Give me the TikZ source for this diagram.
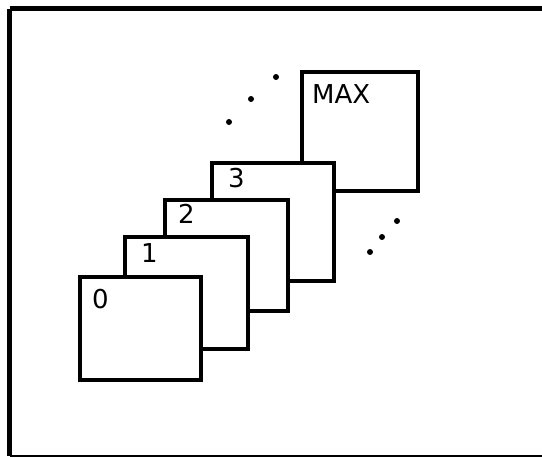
\documentclass[tikz,border=0pt]{standalone}
\usepackage{fontspec}
\setmainfont{DejaVu Sans}
\usepackage{tikz}
\usetikzlibrary{positioning,calc}
\tikzset{card/.style={draw, fill=white, line width=4.5pt, inner sep=0pt, outer sep=0pt}}
\tikzset{tag/.style={inner sep=0pt, anchor=base west, font=\fontsize{26}{31}\selectfont}}
\tikzset{frameline/.style={line width=5pt}}
\tikzset{dot/.style={fill=black}}

\begin{document}
\begin{tikzpicture}[x=1pt, y=-1pt]
			\useasboundingbox (0,0) rectangle (542,458);
			% frame
			\draw[frameline] (9.5,8.5) -- (548,8.5);
			\draw[frameline] (9.5,8.5) -- (9.5,456);
			\draw[line width=2.5pt] (9.5,456) -- (548,456);
			%
			% back to front
			\node[card, minimum width=116pt, minimum height=119pt] (bmax) at (360,131.5) {};
			\node[card, minimum width=122pt, minimum height=118pt] (b3) at (273,222) {};
			\node[card, minimum width=123pt, minimum height=111pt] (b2) at (226.5,255.5) {};
			\node[card, minimum width=123pt, minimum height=112pt] (b1) at (186.5,293) {};
			\node[card, minimum width=121pt, minimum height=103pt] (b0) at (140.5,328.5) {};
			%
			\node[tag] (tmax) at ([shift={(10,31)}]bmax.north west) {MAX};
			\node[tag] (t3) at ([shift={(16,24)}]b3.north west) {3};
			\node[tag] (t2) at ([shift={(13,23)}]b2.north west) {2};
			\node[tag] (t1) at ([shift={(16,25)}]b1.north west) {1};
			\node[tag] (t0) at ([shift={(12,31)}]b0.north west) {0};
			%
			% ellipsis dots
			\fill[dot] (276,77) circle (3);
			\fill[dot] (251,99) circle (3);
			\fill[dot] (229,122) circle (3);
			\fill[dot] (397,221) circle (3);
			\fill[dot] (382,237) circle (3);
			\fill[dot] (370,252) circle (3);
		\end{tikzpicture}
\end{document}
